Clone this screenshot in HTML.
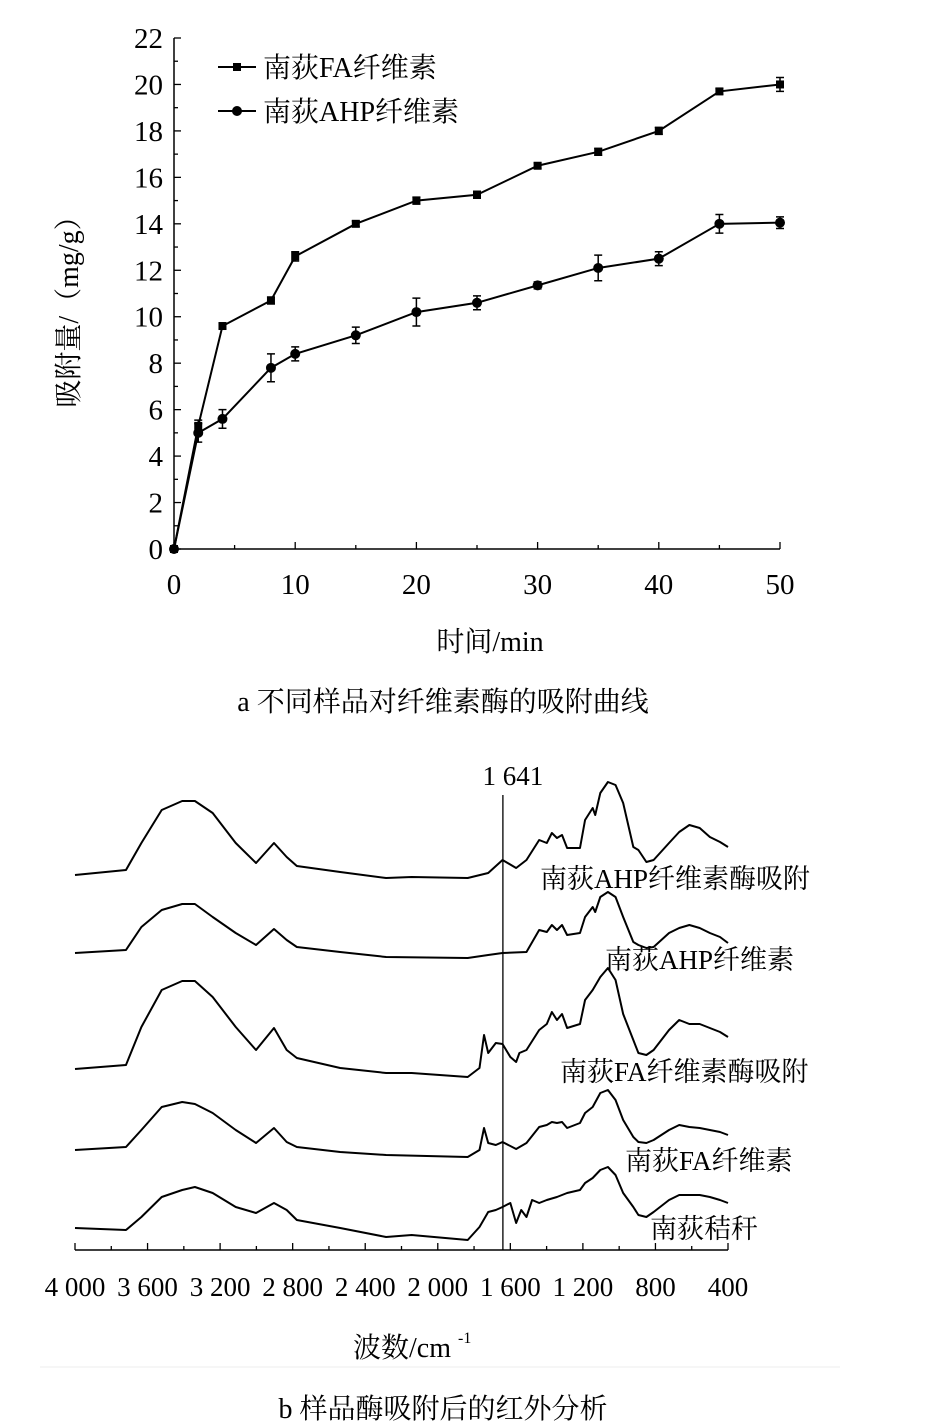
<!DOCTYPE html>
<html><head><meta charset="utf-8">
<style>
html,body{margin:0;padding:0;background:#fff;}
svg{display:block;font-family:"Liberation Serif","Noto Serif CJK SC",serif;}
</style></head>
<body>
<svg id="s" width="934" height="1428" viewBox="0 0 934 1428">
<g id="a"></g>
<g id="b"></g>
<text x="443" y="711" font-size="28" text-anchor="middle">a 不同样品对纤维素酶的吸附曲线</text>
<line x1="40" y1="1367" x2="840" y2="1367" stroke="#eee" stroke-width="1"/>
<text x="443" y="1418" font-size="28" text-anchor="middle">b 样品酶吸附后的红外分析</text>
</svg>
<script>
// ---- Chart a data ----
const times = [0,2,4,8,10,15,20,25,30,35,40,45,50];
const faValues = [0,5.3,9.6,10.7,12.6,14,15,15.25,16.5,17.1,18,19.7,20];
const faErr = [0,0.25,0.12,0.15,0.2,0.12,0.15,0.15,0.12,0.15,0.15,0.12,0.3];
const ahpValues = [0,5,5.6,7.8,8.4,9.2,10.2,10.6,11.35,12.1,12.5,14,14.05];
const ahpErr = [0,0.4,0.4,0.6,0.3,0.35,0.6,0.3,0.15,0.55,0.3,0.4,0.25];
const xTicksA = [0,10,20,30,40,50];
const yTicksA = [0,2,4,6,8,10,12,14,16,18,20,22];
// ---- Chart b data (wavenumber, relative absorbance) ----
const wnTicks = [4000,3600,3200,2800,2400,2000,1600,1200,800,400];
const wnTickLabels = ["4 000","3 600","3 200","2 800","2 400","2 000","1 600","1 200","800","400"];
const markerWn = 1641;
const specNames = ["南荻AHP纤维素酶吸附","南荻AHP纤维素","南荻FA纤维素酶吸附","南荻FA纤维素","南荻秸秆"];
const specBase = [878,958,1077,1157,1240];
const s1Wn=[4000,3719,3634,3522,3409,3339,3241,3114,3002,2903,2833,2777,2538,2285,2144,1835,1722,1643,1568,1511,1441,1399,1371,1343,1315,1287,1216,1188,1146,1132,1104,1062,1020,978,922,894,850,810,725,669,613,556,500,444,400];
const s1Ab=[3,8,35,68,77,77,65,35,15,35,21,12,6,0,1,0,5,18,10,18,38,35,45,40,43,30,30,58,70,63,85,96,93,75,31,28,16,18,35,46,53,50,41,36,31];
const s2Wn=[4000,3719,3634,3522,3409,3339,3241,3114,3002,2903,2833,2777,2538,2285,1835,1722,1643,1511,1441,1399,1371,1343,1315,1287,1216,1188,1146,1132,1104,1062,1020,978,922,894,850,810,725,669,613,556,500,444,400];
const s2Ab=[5,8,31,48,54,54,41,25,13,29,18,11,6,1,0,3,5,6,28,26,33,28,33,23,25,41,51,46,61,66,61,41,16,13,10,11,25,30,33,30,25,21,15];
const s3Wn=[4000,3719,3634,3522,3409,3339,3241,3114,3002,2903,2833,2777,2538,2285,2144,1835,1770,1745,1722,1680,1643,1600,1568,1550,1511,1441,1399,1371,1343,1315,1287,1216,1188,1146,1104,1062,1020,978,922,894,850,810,725,669,613,556,500,444,400];
const s3Ab=[8,12,50,87,96,96,80,50,27,49,27,19,9,4,4,0,9,42,24,34,33,20,15,24,27,47,53,65,57,63,49,53,77,87,100,109,97,63,37,24,22,27,47,57,53,53,49,45,40];
const s4Wn=[4000,3719,3634,3522,3409,3339,3241,3114,3002,2903,2833,2777,2538,2285,1835,1770,1745,1722,1680,1643,1568,1511,1441,1399,1371,1343,1315,1287,1216,1188,1146,1104,1062,1020,978,922,894,850,810,725,669,613,556,500,444,400];
const s4Ab=[7,10,27,50,55,53,44,27,14,29,15,10,5,2,0,7,29,14,12,15,8,14,30,32,35,34,35,29,34,44,50,64,67,57,37,20,15,14,17,27,32,30,29,27,25,22];
const s5Wn=[4000,3719,3634,3522,3409,3339,3241,3114,3002,2903,2833,2777,2538,2285,2144,1835,1770,1722,1680,1643,1600,1568,1540,1511,1480,1441,1399,1343,1287,1216,1188,1146,1104,1062,1020,978,922,894,850,810,725,669,613,556,500,444,400];
const s5Ab=[12,10,23,43,50,53,47,33,27,37,30,20,12,3,5,0,13,28,30,33,37,17,30,23,40,37,40,43,47,50,57,62,70,73,65,47,33,25,23,28,40,45,45,45,43,40,37];
const specWn=[s1Wn,s2Wn,s3Wn,s4Wn,s5Wn];
const specAb=[s1Ab,s2Ab,s3Ab,s4Ab,s5Ab];
const labelPos=[[540,888],[605,969],[560,1081],[625,1170],[650,1238]];

const NS="http://www.w3.org/2000/svg";
function mk(parent,tag,attrs,txt){const e=document.createElementNS(NS,tag);for(const k in attrs)e.setAttribute(k,attrs[k]);if(txt!==undefined)e.textContent=txt;parent.appendChild(e);return e;}

// ---- Chart a ----
const A=document.getElementById('a');
const ax=t=>174+t*(780-174)/50;
const ay=v=>549-v*(549-38)/22;
let e;
e=mk(A,'line',{x1:ax(0),y1:ay(0),x2:ax(50),y2:ay(0),stroke:'#000','stroke-width':1.5});


e=mk(A,'line',{x1:ax(0),y1:ay(0),x2:ax(0),y2:ay(22),stroke:'#000','stroke-width':1.5});


for(let v=0;v<=22;v++){
  e=mk(A,'line',{x1:ax(0),y1:ay(v),x2:ax(0)+(v%2?4:7),y2:ay(v),stroke:'#000','stroke-width':1.3});
  
  
}
yTicksA.forEach(v=>{
  e=mk(A,'text',{x:163,y:ay(v)+10,'font-size':29,'text-anchor':'end'},String(v));
  
  
});
for(let t=0;t<=50;t+=5){
  e=mk(A,'line',{x1:ax(t),y1:ay(0),x2:ax(t),y2:ay(0)-(t%10?4:7),stroke:'#000','stroke-width':1.3});
  
  
}
xTicksA.forEach(t=>{
  e=mk(A,'text',{x:ax(t),y:594,'font-size':29,'text-anchor':'middle'},String(t));
  
  
});
e=mk(A,'text',{x:490,y:651,'font-size':28,'text-anchor':'middle'},'时间/min');


e=mk(A,'text',{x:0,y:0,'font-size':28,'text-anchor':'middle',transform:'translate(78,305) rotate(-90)'},'吸附量/（mg/g）');


function series(vals,errs,shape,name){
  const g=mk(A,'g',{});
  
  
  e=mk(g,'polyline',{points:times.map((t,i)=>ax(t)+','+ay(vals[i])).join(' '),fill:'none',stroke:'#000','stroke-width':2});
  
  
  times.forEach((t,i)=>{
    const x=ax(t),y=ay(vals[i]),eu=ay(vals[i]+errs[i]),ed=ay(vals[i]-errs[i]);
    e=mk(g,'path',{d:`M${x},${eu}V${ed}M${x-4},${eu}H${x+4}M${x-4},${ed}H${x+4}`,stroke:'#000','stroke-width':1.5,fill:'none'});
    
    
    if(shape==='sq') e=mk(g,'rect',{x:x-4,y:y-4,width:8,height:8,fill:'#000'});
    else e=mk(g,'circle',{cx:x,cy:y,r:5,fill:'#000'});
    
    
  });
}
series(faValues,faErr,'sq','series-fa');
series(ahpValues,ahpErr,'ci','series-ahp');
// legend
e=mk(A,'line',{x1:218,y1:67,x2:256,y2:67,stroke:'#000','stroke-width':2});


e=mk(A,'rect',{x:233,y:63,width:8,height:8});


e=mk(A,'text',{x:263,y:77,'font-size':28},'南荻FA纤维素');


e=mk(A,'line',{x1:218,y1:111,x2:256,y2:111,stroke:'#000','stroke-width':2});


e=mk(A,'circle',{cx:237,cy:111,r:5});


e=mk(A,'text',{x:263,y:121,'font-size':28},'南荻AHP纤维素');



// ---- Chart b ----
const B=document.getElementById('b');
const bx=w=>75+(4000-w)*(728-75)/3600;
e=mk(B,'line',{x1:bx(4000),y1:1250,x2:bx(400),y2:1250,stroke:'#000','stroke-width':1.5});


for(let w=4000;w>=400;w-=200){
  e=mk(B,'line',{x1:bx(w),y1:1250,x2:bx(w),y2:1250-(w%400?4:7),stroke:'#000','stroke-width':1.3});
  
  
}
wnTicks.forEach((w,i)=>{
  e=mk(B,'text',{x:bx(w),y:1296,'font-size':27,'text-anchor':'middle'},wnTickLabels[i]);
  
  
});
e=mk(B,'text',{x:402,y:1357,'font-size':28,'text-anchor':'middle'},'波数/cm');


e=mk(B,'text',{x:458,y:1343,'font-size':16},'-1');


e=mk(B,'line',{x1:bx(markerWn),y1:795,x2:bx(markerWn),y2:1250,stroke:'#000','stroke-width':1.3});


e=mk(B,'text',{x:bx(markerWn)+10,y:785,'font-size':27,'text-anchor':'middle'},'1 641');


specNames.forEach((n,k)=>{
  e=mk(B,'polyline',{points:specWn[k].map((w,i)=>bx(w)+','+(specBase[k]-specAb[k][i])).join(' '),fill:'none',stroke:'#000','stroke-width':2,'stroke-linejoin':'round'});
  
  
  e=mk(B,'text',{x:labelPos[k][0],y:labelPos[k][1],'font-size':27},n);
  
  
});
</script>
</body></html>
